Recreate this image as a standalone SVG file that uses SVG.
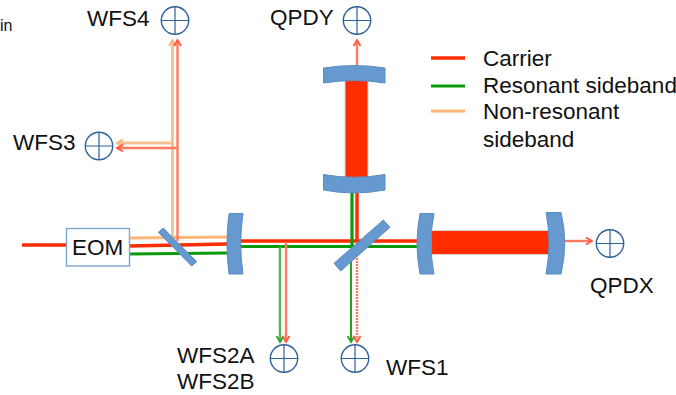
<svg xmlns="http://www.w3.org/2000/svg" width="676" height="395" viewBox="0 0 676 395">
<defs>
<style>
text{font-family:"Liberation Sans",Arial,sans-serif;font-size:22.500px;fill:#111}
.dc{fill:#fff;stroke:#2f6199;stroke-width:1.4}
.dp{fill:none;stroke:#2f6199;stroke-width:1.2}
.opt{fill:#6699cf;stroke:#5a8dc0;stroke-width:1;stroke-linejoin:round}
.cav{fill:#ff2c00;stroke:#d8d8d8;stroke-width:1}
.b{fill:none}
.r{stroke:#ff2c00;stroke-width:3.4}
.g{stroke:#0a9a0a;stroke-width:3.2}
.o{stroke:#fdb678;stroke-width:3.2}
.r2{stroke:#ff7a60;stroke-width:2.400}
.g2{stroke:#52b552;stroke-width:2.400}
.o2{stroke:#f4bf90;stroke-width:2.800}
</style>
<marker id="ar" markerWidth="10" markerHeight="10" refX="8" refY="5" orient="auto" markerUnits="userSpaceOnUse"><path d="M2,1.500L8,5L2,8.500" fill="none" stroke="#ff5a3c" stroke-width="1.800"/></marker>
<marker id="ag" markerWidth="10" markerHeight="10" refX="8" refY="5" orient="auto" markerUnits="userSpaceOnUse"><path d="M2,1.500L8,5L2,8.500" fill="none" stroke="#2aa52a" stroke-width="1.800"/></marker>
<marker id="ao" markerWidth="10" markerHeight="10" refX="8" refY="5" orient="auto" markerUnits="userSpaceOnUse"><path d="M2,1.500L8,5L2,8.500" fill="none" stroke="#f8b27a" stroke-width="1.800"/></marker>
<g id="d"><circle class="dc" r="13.700"/><path class="dp" d="M-13.700,0H13.700M0,-13.700V13.700"/></g>
</defs>
<text x="0" y="31" style="font-size:16px">in</text>
<g id="connectors" class="b">
<path class="r" d="M22,245H67"/>
<path class="o" d="M129,238L228,237"/>
<path class="r" d="M129,246L228,244"/>
<path class="g" d="M129,254L228,253"/>
<path class="o2" d="M172.500,237V40" marker-end="url(#ao)"/>
<path class="r2" d="M177.500,241V40" marker-end="url(#ar)"/>
<path class="o2" d="M172,143H117" marker-end="url(#ao)"/>
<path class="r2" d="M177,148H117" marker-end="url(#ar)"/>
<path class="r" d="M240,241H418"/>
<path class="g" d="M240,246.500H418"/>
<path class="g" d="M352,192V246"/>
<path class="r" d="M357,192V241"/>
<path class="g2" d="M280,247V342" marker-end="url(#ag)"/>
<path class="r2" d="M286,242V342" marker-end="url(#ar)"/>
<path stroke="#0a9a0a" stroke-width="1.800" d="M351,262V342" marker-end="url(#ag)"/>
<path class="r2" stroke-dasharray="2 1" d="M357,258V342" marker-end="url(#ar)"/>
<path class="r2" d="M357,66V40" marker-end="url(#ar)"/>
<path class="r2" d="M564,241H592" marker-end="url(#ar)"/>
</g>
<g id="cavity-y"><rect class="cav" x="345" y="80" width="23" height="98"/></g>
<g id="cavity-x"><rect class="cav" x="431" y="230.500" width="119" height="24"/></g>
<g id="legend">
<path class="b r" d="M431,58H465"/>
<path class="b g" d="M431,86H465"/>
<path class="b o" d="M431,111H465"/>
<text x="483" y="66">Carrier</text>
<text x="483" y="93">Resonant sideband</text>
<text x="483" y="119">Non-resonant</text>
<text x="483" y="147">sideband</text>
</g>
<g id="eom"><rect x="66.500" y="228.500" width="63" height="37.500" fill="#fff" stroke="#7ea6d2" stroke-width="1.400"/><text x="72" y="255">EOM</text></g>
<g id="pickoff"><path class="opt" d="M158.300,232.300L163.300,228L196.700,261.700L191.700,266Z"/></g>
<g id="beamsplitter"><path class="opt" d="M334,263.300L383.300,220L390,227.300L340.700,271Z"/></g>
<g id="mirror-prm"><path class="opt" d="M229,213.500H243Q238.500,243 243,274H229Q225,243 229,213.500Z"/></g>
<g id="mirror-itmx"><path class="opt" d="M420,213.500H434Q428,243 434,274H420Q414,243 420,213.500Z"/></g>
<g id="mirror-etmx"><path class="opt" d="M546,212.500H561Q568.500,243 561,274H546Q552,243 546,212.500Z"/></g>
<g id="mirror-etmy"><path class="opt" d="M323.500,68Q354,63 385,68V83Q354,78 323.500,83Z"/></g>
<g id="mirror-itmy"><path class="opt" d="M323.500,174.500Q354,180 385,174.500V190Q354,196 323.500,190Z"/></g>
<g id="WFS4"><use href="#d" x="175" y="20.500"/><text x="87" y="26">WFS4</text></g>
<g id="WFS3"><use href="#d" x="99" y="146"/><text x="13" y="150">WFS3</text></g>
<g id="QPDY"><use href="#d" x="357" y="20.500"/><text x="270" y="25">QPDY</text></g>
<g id="QPDX"><use href="#d" x="610" y="243.500"/><text x="590" y="293">QPDX</text></g>
<g id="WFS2"><use href="#d" x="284" y="358.500"/><text x="177" y="363">WFS2A</text><text x="177" y="389">WFS2B</text></g>
<g id="WFS1"><use href="#d" x="355" y="358.500"/><text x="386" y="375">WFS1</text></g>
</svg>
